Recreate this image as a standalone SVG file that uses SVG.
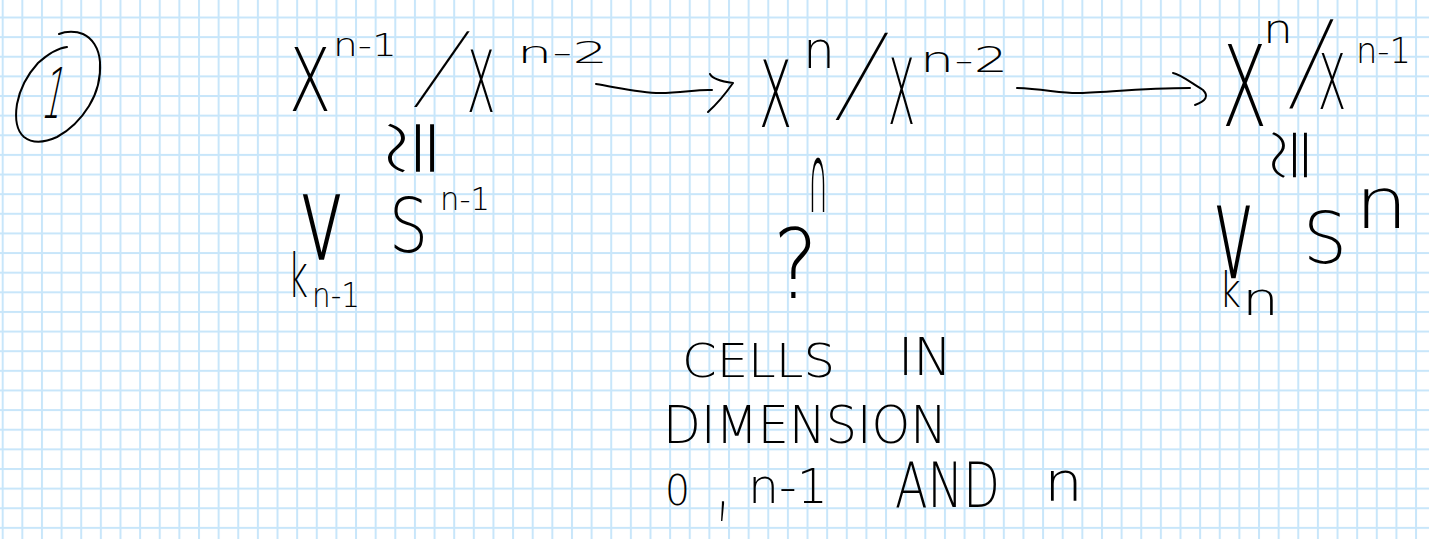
<svg xmlns="http://www.w3.org/2000/svg" width="1429" height="539" viewBox="0 0 1429 539">
<defs>
<pattern id="grid" patternUnits="userSpaceOnUse" x="1.7" y="16.5" width="19.63" height="19.63">
<rect x="0" y="0" width="2" height="19.63" fill="#c8e6fa"/>
<rect x="0" y="0" width="19.63" height="2" fill="#c8e6fa"/>
</pattern>
</defs>
<style>
.t{font-family:"DejaVu Sans","Liberation Sans",sans-serif;font-weight:200;fill:#000;}
.c{font-family:"Noto Sans CJK JP","DejaVu Sans",sans-serif;font-weight:100;fill:#000;}
.ink{fill:none;stroke:#000;stroke-width:2;stroke-linecap:round;stroke-linejoin:round;}
</style>
<rect width="1429" height="539" fill="#fff"/>
<rect width="1429" height="539" fill="url(#grid)"/>

<g id="label-1">
<path class="ink" d="M59,34 C66,31 76,31 83,34 C92,38 99,48 100,62 C101,78 97,93 89,106 C81,119 70,130 57,137 C46,142 33,144 24,137 C16,130 15,117 17,104 C20,88 28,74 38,63 C47,55 57,48 67,47"/>
<text class="t" x="0" y="0" font-size="70" textLength="20" lengthAdjust="spacingAndGlyphs" transform="translate(40,118) skewX(-12)">1</text>
</g>

<g id="node-left">
<text class="t" x="289" y="111" font-size="88" textLength="42" lengthAdjust="spacingAndGlyphs">X</text>
<text class="t" x="333" y="56" font-size="32" textLength="64" lengthAdjust="spacingAndGlyphs">n-1</text>
<text class="c" x="0" y="0" font-size="79" transform="translate(418,93) skewX(-18.5)">/</text>
<text class="t" x="467" y="112" font-size="85" textLength="28" lengthAdjust="spacingAndGlyphs">X</text>
<text class="t" x="517" y="63" font-size="30" textLength="91" lengthAdjust="spacingAndGlyphs">n-2</text>
<text class="c" font-size="64" text-anchor="middle" x="0" y="23" transform="translate(411,148) rotate(-90) scale(1,1.7)">≅</text>
<text class="c" x="303" y="246" font-size="72" textLength="37" lengthAdjust="spacingAndGlyphs">⋁</text>
<text class="t" x="288" y="297" font-size="60" textLength="20" lengthAdjust="spacingAndGlyphs">k</text>
<text class="t" x="312" y="307" font-size="34" textLength="48" lengthAdjust="spacingAndGlyphs">n-1</text>
<text class="t" x="389" y="252" font-size="74" textLength="39" lengthAdjust="spacingAndGlyphs">S</text>
<text class="t" x="440" y="210" font-size="32" textLength="50" lengthAdjust="spacingAndGlyphs">n-1</text>
</g>

<g id="node-mid">
<text class="t" x="759" y="127" font-size="92" textLength="33" lengthAdjust="spacingAndGlyphs">X</text>
<text class="t" x="803" y="68" font-size="52" textLength="32" lengthAdjust="spacingAndGlyphs">n</text>
<text class="c" x="0" y="0" font-size="91" transform="translate(838,103.5) skewX(-11.3)">/</text>
<text class="t" x="888" y="124" font-size="90" textLength="27" lengthAdjust="spacingAndGlyphs">X</text>
<text class="t" x="920" y="72" font-size="36" textLength="88" lengthAdjust="spacingAndGlyphs">n-2</text>
<text class="t" x="0" y="0" font-size="80" textLength="20" lengthAdjust="spacingAndGlyphs" transform="translate(808,212) scale(1,1.35)">∩</text>
<text class="t" x="773" y="298" font-size="96" textLength="45" lengthAdjust="spacingAndGlyphs">?</text>
</g>

<g id="node-right">
<text class="t" x="1222" y="126" font-size="112" textLength="45" lengthAdjust="spacingAndGlyphs">X</text>
<text class="t" x="1263" y="43" font-size="40" textLength="30" lengthAdjust="spacingAndGlyphs">n</text>
<text class="c" x="0" y="0" font-size="93" transform="translate(1290,92) skewX(-5.4)">/</text>
<text class="t" x="1318" y="109" font-size="76" textLength="28" lengthAdjust="spacingAndGlyphs">X</text>
<text class="t" x="1356" y="63" font-size="36" textLength="55" lengthAdjust="spacingAndGlyphs">n-1</text>
<text class="c" font-size="60" text-anchor="middle" x="0" y="22" transform="translate(1288,155) rotate(-90) scale(1,1.35)">≅</text>
<text class="c" x="1217" y="263" font-size="80" textLength="33" lengthAdjust="spacingAndGlyphs">⋁</text>
<text class="t" x="1219" y="307" font-size="48" textLength="22" lengthAdjust="spacingAndGlyphs">k</text>
<text class="t" x="1242" y="315" font-size="46" textLength="37" lengthAdjust="spacingAndGlyphs">n</text>
<text class="t" x="1303" y="263" font-size="72" textLength="44" lengthAdjust="spacingAndGlyphs">S</text>
<text class="t" x="1355" y="228" font-size="72" textLength="53" lengthAdjust="spacingAndGlyphs">n</text>
</g>

<g id="note">
<text class="t" x="682" y="377" font-size="47" textLength="153" lengthAdjust="spacingAndGlyphs">CELLS</text>
<text class="t" x="898" y="375" font-size="52" textLength="54" lengthAdjust="spacingAndGlyphs">IN</text>
<text class="t" x="663" y="443" font-size="52" textLength="284" lengthAdjust="spacingAndGlyphs">DIMENSION</text>
<text class="t" x="665" y="505" font-size="42" textLength="25" lengthAdjust="spacingAndGlyphs">0</text>
<text class="t" x="716" y="508" font-size="110" textLength="14" lengthAdjust="spacingAndGlyphs">,</text>
<text class="t" x="748" y="503" font-size="48" textLength="80" lengthAdjust="spacingAndGlyphs">n-1</text>
<text class="t" x="895" y="507" font-size="62" textLength="105" lengthAdjust="spacingAndGlyphs">AND</text>
<text class="t" x="1044" y="500" font-size="54" textLength="39" lengthAdjust="spacingAndGlyphs">n</text>
</g>

<g id="connectors">
<path class="ink" d="M596,84 C620,88 640,93 660,93 C682,93 698,89 712,90"/>
<path class="ink" d="M710,74 C712,78 718,81 733,83 C726,93 718,103 708,112"/>
<path class="ink" d="M1017,88 C1043,89 1060,93 1077,93 C1100,93 1140,88 1190,88"/>
<path class="ink" d="M1173,73 C1180,74 1190,82 1203,90 C1209,96 1206,101 1195,105"/>
</g>
</svg>
